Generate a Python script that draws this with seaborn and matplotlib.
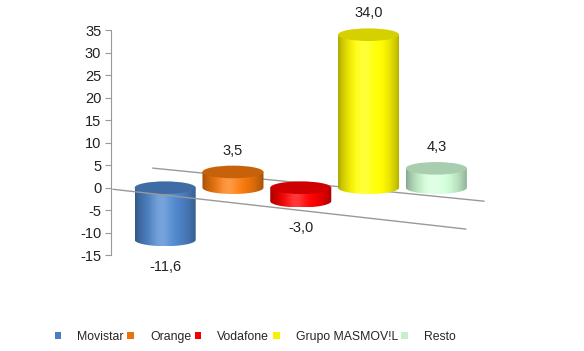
import numpy as np
import pandas as pd
import matplotlib
matplotlib.use("Agg")
import matplotlib.pyplot as plt
import seaborn as sns
from matplotlib.patches import Ellipse, PathPatch, Patch
from matplotlib.path import Path
from matplotlib.colors import to_rgb

# ------------------------------
# Data
# ------------------------------
operators = ["Movistar", "Orange", "Vodafone", "Grupo MASMOV!L", "Resto"]
values = [-11.6, 3.5, -3.0, 34.0, 4.3]
labels = ["-11,6", "3,5", "-3,0", "34,0", "4,3"]
colors = ["#4A7EC0", "#E8720C", "#F00000", "#F8F200", "#C4EFCB"]
yticks = [-15, -10, -5, 0, 5, 10, 15, 20, 25, 30, 35]

df = pd.DataFrame({"operador": operators, "valor": values})

sns.set_style("white")
plt.rcParams["font.family"] = ["Liberation Sans", "DejaVu Sans"]
plt.rcParams["axes.unicode_minus"] = False

fig = plt.figure(figsize=(5.84, 3.51), dpi=100)
ax = fig.add_axes([0.19, 0.273, 0.65, 0.641])

sns.barplot(data=df, x="operador", y="valor", hue="operador", palette=colors,
            width=0.9, saturation=1, legend=False, ax=ax)

ry = 1.4  # half height of the cylinder ellipses, data units


def shade(base, n=120):
    t = np.linspace(0, 1, n)
    s = 0.68 + 0.42 * np.sin(np.pi * t) ** 0.7
    hl = 0.22 * np.exp(-((t - 0.42) / 0.16) ** 2)
    rgb = np.array(to_rgb(base))
    img = rgb[None, :] * s[:, None]
    img = img + (1 - img) * hl[:, None]
    return np.clip(img, 0, 1)[None, :, :]


# turn the flat bars into cylinders
for bar, col in zip(list(ax.patches), colors):
    x, w = bar.get_x(), bar.get_width()
    y0 = min(bar.get_y(), bar.get_y() + bar.get_height())
    y1 = max(bar.get_y(), bar.get_y() + bar.get_height())
    cx = x + w / 2
    bar.set_visible(False)

    arc = np.linspace(np.pi, 2 * np.pi, 40)
    verts = [(x, y1)] + [(cx + w / 2 * np.cos(a), y0 + ry * np.sin(a)) for a in arc] + [(x + w, y1), (x, y1)]
    body = PathPatch(Path(verts), fc="none", ec="none", transform=ax.transData)
    ax.add_patch(body)
    im = ax.imshow(shade(col), extent=(x, x + w, y0 - ry, y1), aspect="auto",
                   zorder=3, interpolation="bilinear")
    im.set_clip_path(body)
    im.set_clip_box(None)

    cap_col = np.clip(np.array(to_rgb(col)) * 0.86, 0, 1)
    ax.add_patch(Ellipse((cx, y1), w, 2 * ry, fc=cap_col, ec="none", zorder=4, clip_on=False))

# data labels
for i, (v, lab) in enumerate(zip(values, labels)):
    if v >= 0:
        ax.annotate(lab, (i, v + ry), xytext=(0, 15), textcoords="offset pixels",
                    ha="center", va="center", fontsize=10.5, color="#222222",
                    annotation_clip=False)
    else:
        ax.annotate(lab, (i, v - ry), xytext=(0, -21), textcoords="offset pixels",
                    ha="center", va="center", fontsize=10.5, color="#222222",
                    annotation_clip=False)

# floor lines of the 3D look
ax.plot([0.11, 0.983], [0.387, 0.24], transform=ax.transAxes, color="#999999", lw=1, zorder=2, clip_on=False)
ax.plot([0.005, 0.935], [0.293, 0.116], transform=ax.transAxes, color="#999999", lw=1, zorder=5, clip_on=False)

ax.set_xlim(-0.8, 4.8)
ax.set_ylim(-15, 35)
ax.set_yticks(yticks)
ax.set_xticks([])
ax.set_xlabel("")
ax.set_ylabel("")
for side in ["top", "right", "bottom"]:
    ax.spines[side].set_visible(False)
ax.spines["left"].set_color("#999999")
ax.tick_params(axis="y", direction="out", length=4, color="#999999", labelsize=10.5,
               labelcolor="#222222", left=True, pad=3)

handles = [Patch(facecolor=c, edgecolor="none") for c in colors]
fig.legend(handles, operators, loc="center", bbox_to_anchor=(0.437, 0.04), ncol=5,
           frameon=False, fontsize=8.8, handlelength=0.55, handleheight=0.55,
           handletextpad=1.3, columnspacing=0.3)

fig.savefig("out.png", dpi=100)
